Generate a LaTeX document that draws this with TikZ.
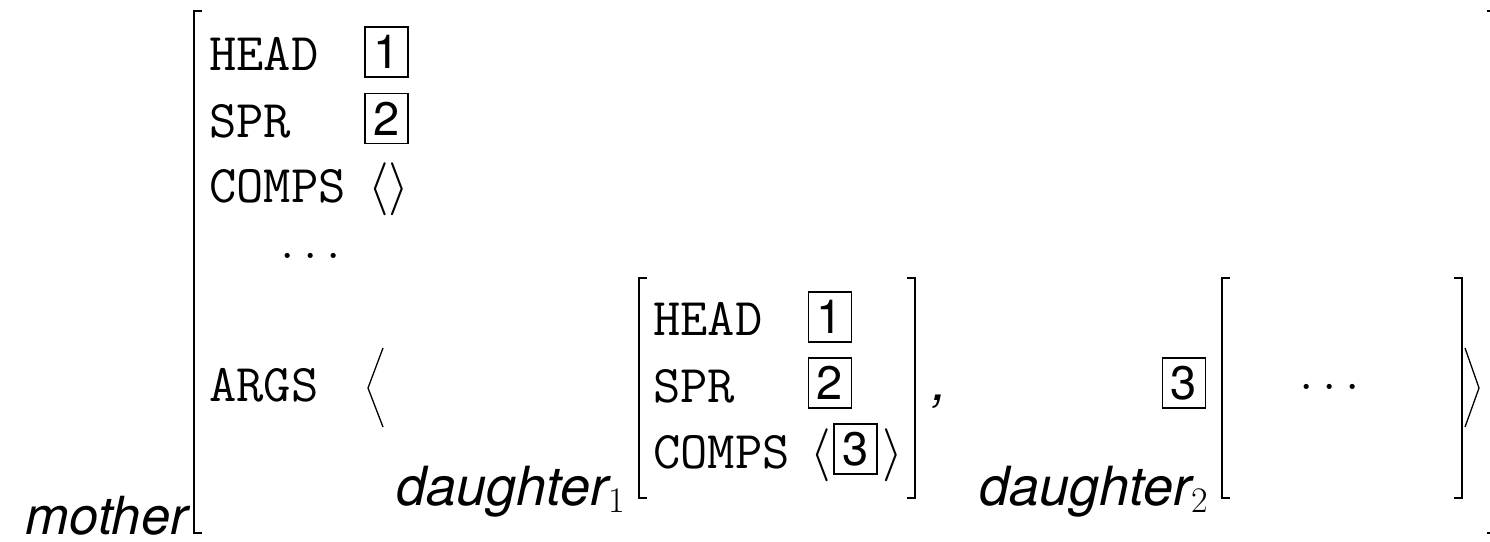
\RequirePackage{fix-cm}
\documentclass[tikz,border=0pt]{standalone}
\usepackage{fontspec}
\newfontfamily\heros{TeX Gyre Heros}
\begin{document}
\begin{tikzpicture}[x=1pt,y=-1pt,
  feat/.style={anchor=base west, inner sep=0pt, font=\fontsize{53}{53}\selectfont\ttfamily},
  tagbox/.style={draw, line width=1.9pt, minimum width=43pt, minimum height=50pt, inner sep=0pt, font=\fontsize{47}{47}\selectfont\heros},
  typ/.style={anchor=base east, inner sep=0pt, font=\fontsize{54}{54}\selectfont\heros\itshape},
  brk/.style={line width=1.4pt},
  ang/.style={line width=1.3pt},
  sym/.style={inner sep=0pt, font=\fontsize{53}{53}\selectfont}]
\useasboundingbox (0,0) rectangle (1490,541);

% mother AVM
\node[typ, font=\fontsize{52.5}{52.5}\selectfont\heros\itshape] (mother) at (188,534) {mother};
\draw[brk] (202,11) -- (194,11) -- (194,533) -- (202,533);
\draw[brk] (1487,11) -- (1491,11) -- (1491,533) -- (1487,533);

\node[feat] (mhead) at (209,70) {HEAD};
\node[tagbox] (mt1) at (386.5,52) {1};
\node[feat] (mspr) at (209,137) {SPR};
\node[tagbox] (mt2) at (386.5,118.5) {2};
\node[feat] (mcomps) at (209,202) {COMPS};
\node[sym, anchor=base west] (mlist) at (368,202) {$\langle\rangle$};
\node[sym, anchor=center] (mdots) at (311,256) {$\ldots$};
\node[feat] (margs) at (209,401) {ARGS};
\draw[ang] (383,348) -- (368,388) -- (383,427);

% daughter 1
\node[typ] (d1) at (625,505) {daughter\raisebox{-7pt}{\fontsize{36}{36}\selectfont\rmfamily\upshape 1}};
\draw[brk] (647,278) -- (639,278) -- (639,498) -- (647,498);
\draw[brk] (907,278) -- (915,278) -- (915,498) -- (907,498);
\node[feat] (dhead) at (653,335) {HEAD};
\node[tagbox] (dt1) at (830,317) {1};
\node[feat] (dspr) at (653,402) {SPR};
\node[tagbox] (dt2) at (830,383) {2};
\node[feat] (dcomps) at (653,468) {COMPS};
\node[sym, anchor=base west] (dl) at (810,468) {$\langle$};
\node[tagbox] (dt3) at (855.5,449) {3};
\node[sym, anchor=base west] (dr) at (882,468) {$\rangle$};
\node[anchor=base west, inner sep=0pt, font=\fontsize{54}{54}\selectfont\heros\itshape] (comma) at (932,400) {,};

% daughter 2
\node[tagbox] (t3) at (1184,383) {3};
\node[typ] (d2) at (1208,505) {daughter\raisebox{-7pt}{\fontsize{36}{36}\selectfont\rmfamily\upshape 2}};
\draw[brk] (1230,278) -- (1222,278) -- (1222,498) -- (1230,498);
\draw[brk] (1454,278) -- (1462,278) -- (1462,498) -- (1454,498);
\node[sym, anchor=center] (d2dots) at (1330,387) {$\ldots$};
\draw[ang] (1465,348) -- (1479,388) -- (1465,427);
\end{tikzpicture}
\end{document}
